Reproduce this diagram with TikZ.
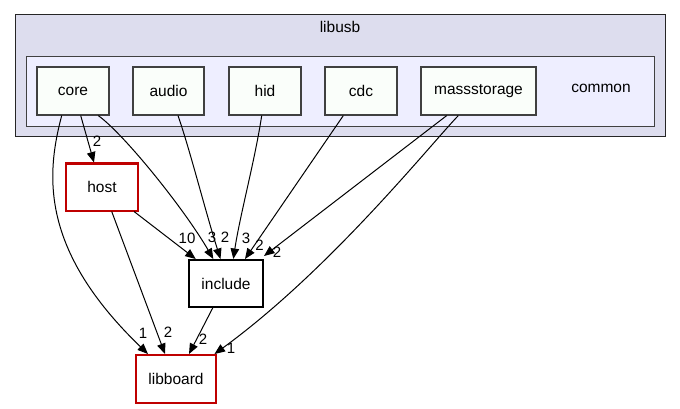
\documentclass[tikz,border=0pt]{standalone}
\usepackage{fontspec}
\setmainfont{Liberation Sans}
\usetikzlibrary{arrows.meta,calc}
\definecolor{outerfill}{RGB}{221,221,238}
\definecolor{innerfill}{RGB}{238,238,255}
\definecolor{leaffill}{RGB}{250,254,250}
\definecolor{leafborder}{RGB}{64,64,64}
\definecolor{extred}{RGB}{191,0,0}
\begin{document}
\begin{tikzpicture}[x=1pt,y=-1pt,
  nodefont/.style={font=\fontsize{15.5}{18}\selectfont},
  leaf/.style={nodefont,draw=leafborder,line width=1.2pt,fill=leaffill,minimum height=48pt,inner sep=0pt},
  extbox/.style={nodefont,draw=extred,line width=2pt,fill=white,minimum height=47pt,inner sep=0pt},
  incbox/.style={nodefont,draw=black,line width=2pt,fill=white,minimum height=47pt,inner sep=0pt},
  dep/.style={draw=black,line width=1pt,-{Triangle[length=10.5pt,width=8.5pt]}},
  lbl/.style={font=\fontsize{15}{17}\selectfont,inner sep=0pt}]
\useasboundingbox (0,0) rectangle (680,409);
\fill[white] (0,0) rectangle (680,409);
% clusters
\draw[draw=black!85,line width=1pt,fill=outerfill] (15,15) rectangle (665,137);
\node[nodefont,inner sep=0pt] (libusblbl) at (340,27) {libusb};
\draw[draw=leafborder,line width=1pt,fill=innerfill] (26,57) rectangle (654,127);
\node[nodefont,inner sep=0pt] (commonlbl) at (601,88) {common};
% leaf nodes
\node[leaf,minimum width=72pt] (core) at (73,91) {core};
\node[leaf,minimum width=71pt] (audio) at (168.5,91) {audio};
\node[leaf,minimum width=72pt] (hid) at (265,91) {hid};
\node[leaf,minimum width=72pt] (cdc) at (361,91) {cdc};
\node[leaf,minimum width=115pt] (mass) at (478.5,91) {massstorage};
\node[extbox,minimum width=72pt] (host) at (102,187) {host};
\node[incbox,minimum width=74pt] (include) at (226,283.5) {include};
\node[extbox,minimum width=80pt,minimum height=48pt] (libboard) at (176,379) {libboard};
% edges
\draw[dep] ([xshift=-11.3pt]core.south) .. controls (46,175) and (40,250) .. ([xshift=-28pt]libboard.north);
\draw[dep] ([xshift=7.7pt]core.south) -- ([xshift=-8pt]host.north);
\draw[dep] ([xshift=25.3pt]core.south) .. controls (125,135) and (185,210) .. ([xshift=-12.7pt]include.north);
\draw[dep] ([xshift=9.5pt]audio.south) .. controls (190,150) and (205,210) .. ([xshift=-5.5pt]include.north);
\draw[dep] ([xshift=-3.3pt]hid.south) .. controls (255,160) and (240,215) .. ([xshift=7.3pt]include.north);
\draw[dep] ([xshift=-17.7pt]cdc.south) -- ([xshift=19pt]include.north);
\draw[dep] ([xshift=-31.8pt]mass.south) -- ([yshift=3pt]include.north east);
\draw[dep] ([xshift=-20.2pt]mass.south) .. controls (430,145) and (330,270) .. ([xshift=-2.5pt]libboard.north east);
\draw[dep] ([xshift=32pt]host.south) -- ([xshift=-30.3pt]include.north);
\draw[dep] ([xshift=9.7pt]host.south) -- ([xshift=-11pt]libboard.north);
\draw[dep] ([xshift=-13.3pt]include.south) -- ([xshift=13pt]libboard.north);
% edge labels
\node[lbl] (l1) at (97,141) {2};
\node[lbl] (l2) at (187,238) {10};
\node[lbl] (l3) at (212,237) {3};
\node[lbl] (l4) at (225,237) {2};
\node[lbl] (l5) at (246,238) {3};
\node[lbl] (l6) at (259.5,245) {2};
\node[lbl] (l7) at (277,252) {2};
\node[lbl] (l8) at (143,333) {1};
\node[lbl] (l9) at (168,332) {2};
\node[lbl] (l10) at (203,339) {2};
\node[lbl] (l11) at (231,348) {1};
\end{tikzpicture}
\end{document}
